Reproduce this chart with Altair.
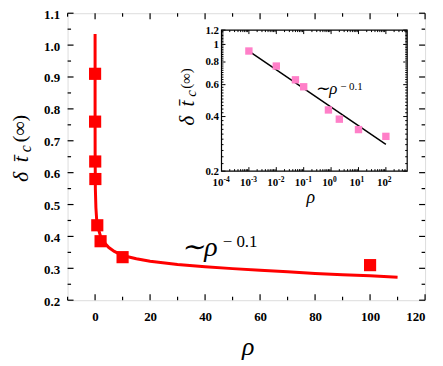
import altair as alt
import pandas as pd

# ---------------- data ----------------
rho = [0.001, 0.01, 0.05, 0.1, 0.8, 2, 10, 100]
dtc = [0.91, 0.76, 0.635, 0.58, 0.435, 0.385, 0.335, 0.31]

fit_rho = [0.0002, 0.001, 0.005, 0.02, 0.1, 0.3, 0.6, 1, 2, 3, 5, 7, 10, 15,
           20, 30, 40, 50, 60, 70, 80, 90, 100, 110]
fit_dtc = [1.035, 0.88, 0.75, 0.66, 0.55, 0.49, 0.45, 0.43, 0.40, 0.384, 0.365,
           0.353, 0.34, 0.33, 0.322, 0.312, 0.305, 0.299, 0.294, 0.289, 0.284,
           0.280, 0.277, 0.272]

inset_rho = [0.001, 0.01, 0.05, 0.1, 0.8, 2, 10, 100]
inset_dtc = [0.92, 0.76, 0.638, 0.584, 0.435, 0.387, 0.339, 0.311]
inset_fit_rho = [0.001, 100]
inset_fit_dtc = [0.92, 0.281]

x_labels = [0, 20, 40, 60, 80, 100, 120]
x_minor = [-10, 10, 30, 50, 70, 90, 110]
y_labels = [0.2, 0.3, 0.4, 0.5, 0.6, 0.7, 0.8, 0.9, 1.0, 1.1]
y_minor = [0.25, 0.35, 0.45, 0.55, 0.65, 0.75, 0.85, 0.95, 1.05]

in_x_major = [1e-4, 1e-3, 1e-2, 1e-1, 1, 10, 100]
in_x_exp = ["-4", "-3", "-2", "-1", "0", "1", "2"]
in_x_minor = [k * 10.0 ** n for n in range(-4, 3) for k in range(2, 10) if k * 10.0 ** n < 600]
in_y_major = [0.2, 0.4, 0.6, 0.8, 1.0, 1.2]
in_y_minor = [round(0.2 + 0.02 * i, 2) for i in range(1, 50) if i % 10 != 0]

SERIF = "Liberation Serif, Times New Roman, Times, serif"
RED = "#ff0000"
PINK = "#ff7fc8"

W, H = 360, 289

# ---------------- main panel ----------------
XS = alt.Scale(domain=[-10, 120], nice=False, zero=False)
YS = alt.Scale(domain=[0.2, 1.1], nice=False, zero=False)
XA = alt.Axis(values=x_labels, ticks=False, domain=False, grid=False, title=None,
              labelFont=SERIF, labelFontSize=13, labelFontWeight="bold",
              labelColor="black", labelPadding=10)
YA = alt.Axis(values=y_labels, format=".1f", ticks=False, domain=False, grid=False,
              title=None, labelFont=SERIF, labelFontSize=13, labelFontWeight="bold",
              labelColor="black", labelPadding=8, labelOffset=1)
MX = alt.X("x:Q", scale=XS, axis=XA)
MY = alt.Y("y:Q", scale=YS, axis=YA)

pts = pd.DataFrame({"x": rho, "y": dtc})
fit = pd.DataFrame({"x": fit_rho, "y": fit_dtc})

curve = alt.Chart(fit).mark_line(color=RED, strokeWidth=3).encode(x=MX, y=MY, order="x:Q")
squares = alt.Chart(pts).mark_square(color=RED, size=150, opacity=1).encode(x=MX, y=MY)

def yticks(vals, length):
    d = pd.DataFrame({"y": vals})
    a = alt.Chart(d).mark_rule(color="black", strokeWidth=1.2).encode(
        y=MY, x=alt.value(0), x2=alt.value(length))
    b = alt.Chart(d).mark_rule(color="black", strokeWidth=1.2).encode(
        y=MY, x=alt.value(W), x2=alt.value(W - length))
    return [a, b]

def xticks(vals, length):
    d = pd.DataFrame({"x": vals})
    a = alt.Chart(d).mark_rule(color="black", strokeWidth=1.2).encode(
        x=MX, y=alt.value(H), y2=alt.value(H - length))
    b = alt.Chart(d).mark_rule(color="black", strokeWidth=1.2).encode(
        x=MX, y=alt.value(0), y2=alt.value(length))
    return [a, b]

ann_main = pd.DataFrame({"x": [31.3], "y": [0.340]})
ann_main_sup = pd.DataFrame({"x": [46.4], "y": [0.366]})
t1 = alt.Chart(ann_main).mark_text(text="∼ρ", font=SERIF, fontSize=28, fontStyle="italic",
                                   align="left", baseline="alphabetic", color="black").encode(x=MX, y=MY)
t2 = alt.Chart(ann_main_sup).mark_text(text="− 0.1", font=SERIF, fontSize=17,
                                       align="left", baseline="alphabetic", color="black").encode(x=MX, y=MY)

one = pd.DataFrame({"a": [0]})

def label(txt, x, y, size, italic=True, angle=0, align="left", dx=0, dy=0, weight="normal"):
    kw = dict(text=txt, font=SERIF, fontSize=size, align=align, baseline="alphabetic",
              color="black", dx=dx, dy=dy, fontWeight=weight)
    if italic:
        kw["fontStyle"] = "italic"
    if angle:
        kw["angle"] = angle
    return alt.Chart(one).mark_text(**kw).encode(x=alt.value(x), y=alt.value(y))

YT_X, YT_Y = -40, 170
titles_main = [
    label("δ", YT_X, YT_Y, 22, angle=270, dx=0),
    label("t\u0304", YT_X, YT_Y, 22, angle=270, dx=20),
    label("c", YT_X, YT_Y, 16, angle=270, dx=30, dy=3),
    label("(∞)", YT_X, YT_Y, 20, italic=False, angle=270, dx=40, dy=-2),
    label("ρ", 182, 344, 26, align="center"),
]

main_layers = [curve, squares, t1, t2] + yticks(y_labels, 6) + yticks(y_minor, 3.5) \
    + xticks(x_labels, 6) + xticks(x_minor, 3.5) + titles_main
main = alt.layer(*main_layers)

# ---------------- inset ----------------
IX0, IX1, IY0, IY1 = 155, 342, 159, 17
IXS = alt.Scale(type="log", domain=[1e-4, 600], range=[IX0, IX1], nice=False)
IYS = alt.Scale(type="log", domain=[0.2, 1.2], range=[IY0, IY1], nice=False)
IYA = alt.Axis(orient="left", offset=-IX0, values=in_y_major, format="~g", ticks=False,
               domain=False, grid=False, title=None, labelFont=SERIF, labelFontSize=11,
               labelFontWeight="bold", labelColor="black", labelPadding=3)
IX = alt.X("x:Q", scale=IXS, axis=None)
IY = alt.Y("y:Q", scale=IYS, axis=IYA)

frame = alt.Chart(pd.DataFrame({"x": [1e-4], "x2": [600], "y": [0.2], "y2": [1.2]})).mark_rect(
    fill="white", stroke="black", strokeWidth=1.2).encode(x=IX, x2="x2:Q", y=IY, y2="y2:Q")

ipts = pd.DataFrame({"x": inset_rho, "y": inset_dtc})
ifit = pd.DataFrame({"x": inset_fit_rho, "y": inset_fit_dtc})
iline = alt.Chart(ifit).mark_line(color="black", strokeWidth=1.5).encode(x=IX, y=IY)
isq = alt.Chart(ipts).mark_square(color=PINK, size=55, opacity=1).encode(x=IX, y=IY)

def iyticks(vals, length):
    d = pd.DataFrame({"y": vals})
    a = alt.Chart(d).mark_rule(color="black", strokeWidth=1).encode(
        y=IY, x=alt.value(IX0), x2=alt.value(IX0 + length))
    b = alt.Chart(d).mark_rule(color="black", strokeWidth=1).encode(
        y=IY, x=alt.value(IX1), x2=alt.value(IX1 - length))
    return [a, b]

def ixticks(vals, length):
    d = pd.DataFrame({"x": vals})
    a = alt.Chart(d).mark_rule(color="black", strokeWidth=1).encode(
        x=IX, y=alt.value(IY0), y2=alt.value(IY0 - length))
    b = alt.Chart(d).mark_rule(color="black", strokeWidth=1).encode(
        x=IX, y=alt.value(IY1), y2=alt.value(IY1 + length))
    return [a, b]

xl = pd.DataFrame({"x": in_x_major, "e": in_x_exp})
ten = alt.Chart(xl).mark_text(text="10", font=SERIF, fontSize=11, fontWeight="bold",
                              align="right", baseline="alphabetic", dx=2, color="black").encode(
    x=IX, y=alt.value(IY0 + 15))
expo = alt.Chart(xl).mark_text(font=SERIF, fontSize=7.5, fontWeight="bold",
                               align="left", baseline="alphabetic", dx=2, dy=-4, color="black").encode(
    x=IX, y=alt.value(IY0 + 15), text="e:N")

ann_in = pd.DataFrame({"x": [0.266], "y": [0.535]})
ann_in_sup = pd.DataFrame({"x": [2.16], "y": [0.563]})
it1 = alt.Chart(ann_in).mark_text(text="∼ρ", font=SERIF, fontSize=17, fontStyle="italic",
                                  align="left", baseline="alphabetic", color="black").encode(x=IX, y=IY)
it2 = alt.Chart(ann_in_sup).mark_text(text="− 0.1", font=SERIF, fontSize=11,
                                      align="left", baseline="alphabetic", color="black").encode(x=IX, y=IY)

titles_in = [
    label("δ", 127, 113, 21, angle=270, dx=0),
    label("t\u0304", 127, 113, 21, angle=270, dx=19),
    label("c", 127, 113, 15, angle=270, dx=29, dy=2),
    label("(∞)", 127, 113, 15, italic=False, angle=270, dx=37, dy=-3),
    label("ρ", 245, 191, 18, align="center"),
]

inset_layers = [frame, iline, isq, it1, it2, ten, expo] + iyticks(in_y_major, 4) \
    + iyticks(in_y_minor, 2) + ixticks(in_x_major, 4) + ixticks(in_x_minor, 2) + titles_in
inset = alt.layer(*inset_layers)

chart = alt.layer(main, inset).resolve_scale(x="independent", y="independent").properties(
    width=W, height=H,
    autosize=alt.AutoSizeParams(type="none"),
    padding={"left": 60, "top": 4, "right": 10, "bottom": 65},
).configure_view(stroke="black", strokeWidth=1.5).configure(background="white")

chart.save("out.html", embed_options={"renderer": "svg", "actions": False})
